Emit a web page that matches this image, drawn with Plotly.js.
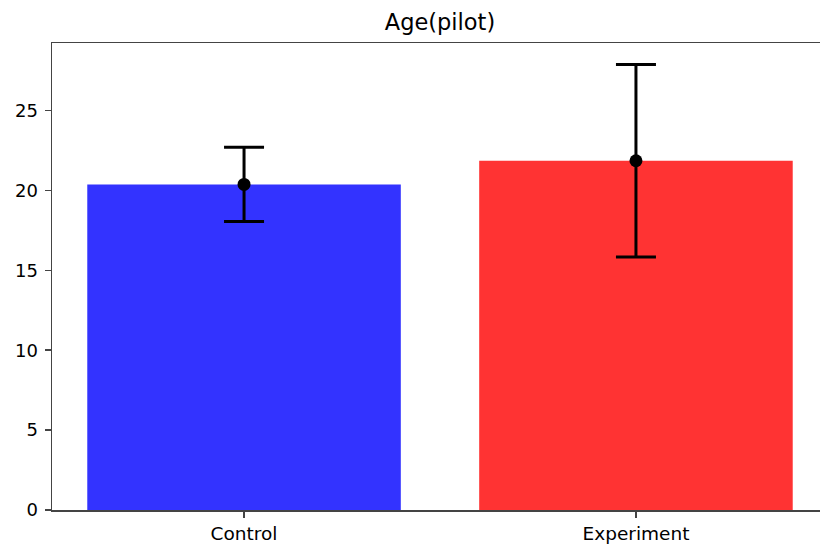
<!DOCTYPE html>
<html>
<head>
<meta charset="utf-8">
<script src="https://cdn.plot.ly/plotly-3.0.1.min.js"></script>
<style>
html, body { margin: 0; padding: 0; overflow: hidden; background: #fff; }
#chart { width: 840px; height: 549px; }
</style>
</head>
<body>
<div id="chart"></div>
<script>
const categories = ["Control", "Experiment"];
const means = [20.38, 21.86];
const errors = [2.32, 6.03];
const barColors = ["#3333ff", "#ff3333"];
const yTicks = [0, 5, 10, 15, 20, 25];
const chartTitle = "Age(pilot)";

const bars = {
  type: "bar",
  x: categories,
  y: means,
  width: 0.8,
  marker: { color: barColors, line: { width: 0 } },
  hoverinfo: "skip",
  showlegend: false
};

const points = {
  type: "scatter",
  mode: "markers",
  x: categories,
  y: means,
  marker: { color: "black", size: 13 },
  error_y: { type: "data", array: errors, visible: true, color: "black", thickness: 3, width: 20 },
  hoverinfo: "skip",
  showlegend: false
};

const layout = {
  width: 840,
  height: 549,
  margin: { l: 52, r: 12, t: 43, b: 39, pad: 0 },
  paper_bgcolor: "#ffffff",
  plot_bgcolor: "#ffffff",
  font: { family: "DejaVu Sans", size: 18, color: "#000" },
  title: {
    text: chartTitle,
    font: { family: "DejaVu Sans", size: 22.5, color: "#000" },
    x: 0.5, xref: "paper", xanchor: "center",
    y: (549 - 22) / 549, yref: "container", yanchor: "middle"
  },
  xaxis: {
    type: "category",
    range: [-0.49, 1.49],
    showgrid: false, zeroline: false,
    showline: true, linecolor: "#444", linewidth: 1.5, mirror: true,
    ticks: "outside", ticklen: 6, tickwidth: 1.5, tickcolor: "#444",
    tickfont: { family: "DejaVu Sans", size: 18.5, color: "#000" }
  },
  yaxis: {
    range: [0, 29.23],
    tickvals: yTicks,
    ticktext: yTicks.map(String),
    showgrid: false, zeroline: false,
    showline: true, linecolor: "#444", linewidth: 1.5, mirror: true,
    ticks: "outside", ticklen: 6, tickwidth: 1.5, tickcolor: "#444",
    tickfont: { family: "DejaVu Sans", size: 18, color: "#000" },
    ticklabelstandoff: 3
  },
  bargap: 0.2
};

Plotly.newPlot("chart", [bars, points], layout, { displayModeBar: false, staticPlot: true });
</script>
</body>
</html>
